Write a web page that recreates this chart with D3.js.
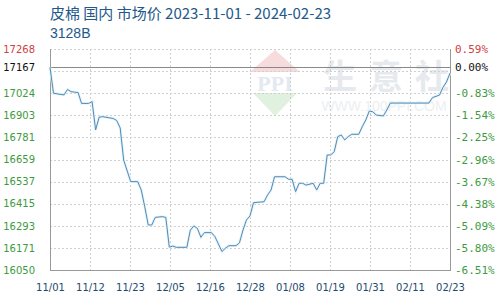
<!DOCTYPE html>
<html>
<head>
<meta charset="utf-8">
<script src="https://cdn.jsdelivr.net/npm/d3@7"></script>
<style>
  body { margin: 0; background: #fff; }
  svg { display: block; }
</style>
</head>
<body>
<div id="chart"></div>
<script>
// title lines
const titleLines = ["皮棉 国内 市场价 2023-11-01 - 2024-02-23", "3128B"];

// daily price points
const dates = [
  "2023-11-01","2023-11-02","2023-11-05","2023-11-06","2023-11-07","2023-11-08","2023-11-09",
  "2023-11-10","2023-11-12","2023-11-13","2023-11-14","2023-11-15","2023-11-16","2023-11-19",
  "2023-11-20","2023-11-21","2023-11-22","2023-11-23","2023-11-24","2023-11-26","2023-11-27",
  "2023-11-28","2023-11-29","2023-11-30","2023-12-01","2023-12-03","2023-12-04","2023-12-05",
  "2023-12-06","2023-12-07","2023-12-10","2023-12-11","2023-12-12","2023-12-13","2023-12-14",
  "2023-12-15","2023-12-17","2023-12-18","2023-12-20","2023-12-21","2023-12-22","2023-12-24",
  "2023-12-25","2023-12-26","2023-12-27","2023-12-28","2023-12-29","2023-12-30","2024-01-01",
  "2024-01-02","2024-01-03","2024-01-04","2024-01-07","2024-01-08","2024-01-09","2024-01-10",
  "2024-01-11","2024-01-12","2024-01-13","2024-01-15","2024-01-16","2024-01-17","2024-01-18",
  "2024-01-19","2024-01-20","2024-01-21","2024-01-22","2024-01-23","2024-01-24","2024-01-25",
  "2024-01-26","2024-01-28","2024-01-29","2024-01-30","2024-01-31","2024-02-01","2024-02-02",
  "2024-02-04","2024-02-05","2024-02-06","2024-02-17","2024-02-18","2024-02-20","2024-02-21",
  "2024-02-22","2024-02-23"
];
const prices = [
  17167,17024,17015,17045,17033,17030,17028,
  16968,16968,16978,16822,16892,16895,16885,
  16874,16833,16656,16596,16537,16537,16491,
  16399,16298,16298,16340,16344,16340,16176,
  16182,16175,16175,16270,16293,16280,16230,
  16256,16256,16234,16152,16170,16184,16184,
  16200,16270,16326,16348,16421,16423,16426,
  16463,16491,16564,16564,16550,16550,16482,
  16528,16528,16518,16528,16491,16528,16528,
  16684,16684,16702,16785,16794,16767,16785,
  16798,16798,16840,16877,16926,16922,16904,
  16899,16932,16970,16970,17000,17014,17056,
  17086,17135
];

// axes
const xTickLabels = ["11/01","11/12","11/23","12/05","12/16","12/28","01/08","01/19","01/31","02/11","02/23"];
const yMin = 16050, yMax = 17268, basePrice = 17167;
const yTickValues = [16050,16171,16293,16415,16537,16659,16781,16903,17024,17167,17268];

// watermark words
const wmChars = ["生", "意", "社"];

const parseDate = d3.timeParse("%Y-%m-%d");
const data = dates.map((d, i) => ({date: parseDate(d), value: prices[i]}));

const width = 500, height = 300;
const margins = {top: 49, right: 50, bottom: 30, left: 50};

const svg = d3.select("#chart")
  .append("svg")
    .attr("width", width)
    .attr("height", height)
    .attr("viewBox", [0, 0, width, height]);

const t0 = parseDate("2023-11-01"), t1 = parseDate("2024-02-23");
const xScale = d3.scaleTime()
  .domain([t0, t1])
  .range([margins.left, width - margins.right]);

const yScale = d3.scaleLinear()
  .domain([yMin, yMax])
  .range([height - margins.bottom, margins.top]);

// ten even steps along both axes
const xTicks = d3.range(11).map(i => new Date(+t0 + i * (t1 - t0) / 10));
const yGrid = d3.range(11).map(i => yMin + i * (yMax - yMin) / 10);

/* watermark */
const wm = svg.append("g").attr("class", "watermark");
const cx = 275;
wm.append("path")
  .attr("d", `M${cx},50 L${cx + 25},72 L${cx - 25},72 Z`)
  .attr("fill", "#f6dcdc");
wm.append("path")
  .attr("d", `M${cx - 22},93 L${cx + 22},93 L${cx},116 Z`)
  .attr("fill", "#e0f1e0");
wm.append("text")
  .attr("x", cx).attr("y", 91)
  .attr("text-anchor", "middle")
  .attr("font-family", "Liberation Serif, serif")
  .attr("font-weight", "bold")
  .attr("font-size", 22)
  .attr("fill", "#e3e9f0")
  .text("PPI");
wm.selectAll("text.cn")
  .data(wmChars)
  .join("text")
    .attr("class", "cn")
    .attr("x", (d, i) => 340 + i * 46)
    .attr("y", 89)
    .attr("text-anchor", "middle")
    .attr("font-family", "Noto Sans CJK SC")
    .attr("font-weight", "bold")
    .attr("font-size", 34)
    .attr("fill", "#e6eaee")
    .text(d => d);
wm.append("text")
  .attr("x", 384).attr("y", 111)
  .attr("text-anchor", "middle")
  .attr("font-family", "Liberation Sans, sans-serif")
  .attr("font-size", 14)
  .attr("fill", "#eceff2")
  .text("WWW.100PPI.COM");

/* grid */
const grid = svg.append("g")
  .attr("stroke", "#cfcfcf")
  .attr("stroke-dasharray", "2,2")
  .attr("shape-rendering", "crispEdges");
grid.selectAll("line.h")
  .data(yGrid)
  .join("line")
    .attr("class", "h")
    .attr("x1", margins.left).attr("x2", width - margins.right)
    .attr("y1", d => Math.round(yScale(d)) + 0.5)
    .attr("y2", d => Math.round(yScale(d)) + 0.5);
grid.selectAll("line.v")
  .data(xTicks)
  .join("line")
    .attr("class", "v")
    .attr("y1", margins.top).attr("y2", height - margins.bottom)
    .attr("x1", d => Math.round(xScale(d)) + 0.5)
    .attr("x2", d => Math.round(xScale(d)) + 0.5);

/* frame and base line */
const frame = svg.append("g")
  .attr("stroke", "#999")
  .attr("fill", "none")
  .attr("shape-rendering", "crispEdges");
frame.append("path")
  .attr("d", `M${margins.left + 0.5},${margins.top} V${height - margins.bottom + 0.5} H${width - margins.right + 0.5} V${margins.top}`);
frame.append("line")
  .attr("x1", margins.left).attr("x2", width - margins.right)
  .attr("y1", Math.round(yScale(basePrice)) + 0.5)
  .attr("y2", Math.round(yScale(basePrice)) + 0.5)
  .attr("stroke", "#888");

/* price line */
const line = d3.line()
  .x(d => xScale(d.date))
  .y(d => yScale(d.value));

svg.append("path")
  .datum(data)
  .attr("d", line)
  .attr("fill", "none")
  .attr("stroke", "#e4f1fa")
  .attr("stroke-width", 2.6);
svg.append("path")
  .datum(data)
  .attr("d", line)
  .attr("fill", "none")
  .attr("stroke", "#4f8cb6")
  .attr("stroke-width", 1);

/* axes labels */
const labelColor = v => v > basePrice ? "#d04040" : (v === basePrice ? "#111" : "#3e9a3e");

const xAxis = d3.axisBottom(xScale)
  .tickValues(xTicks)
  .tickFormat((d, i) => xTickLabels[i])
  .tickSize(0)
  .tickPadding(14);
const xGroup = svg.append("g")
  .attr("transform", `translate(0, ${height - margins.bottom})`)
  .call(xAxis);
xGroup.select(".domain").remove();
xGroup.selectAll("text")
  .attr("font-family", "DejaVu Sans, Verdana, sans-serif")
  .attr("font-size", 10)
  .attr("fill", "#1d4b6b");

const yAxisLeft = d3.axisLeft(yScale)
  .tickValues(yTickValues)
  .tickFormat(d => d)
  .tickSize(0)
  .tickPadding(15);
const yLeft = svg.append("g")
  .attr("transform", `translate(${margins.left}, 0)`)
  .call(yAxisLeft);
yLeft.select(".domain").remove();
yLeft.selectAll("text")
  .attr("font-family", "DejaVu Sans, Verdana, sans-serif")
  .attr("font-size", 10)
  .attr("fill", d => labelColor(d));

const yAxisRight = d3.axisRight(yScale)
  .tickValues(yTickValues)
  .tickFormat(d => ((d / basePrice - 1) * 100).toFixed(2) + "%")
  .tickSize(0)
  .tickPadding(5);
const yRight = svg.append("g")
  .attr("transform", `translate(${width - margins.right}, 0)`)
  .call(yAxisRight);
yRight.select(".domain").remove();
yRight.selectAll("text")
  .attr("font-family", "DejaVu Sans Mono, monospace")
  .attr("font-size", 11)
  .attr("fill", d => labelColor(d));

/* title */
const titleFonts = ["Noto Sans CJK SC, sans-serif", "Liberation Sans, Arial, sans-serif"];
const titleSizes = [15, 14];
svg.append("g")
  .selectAll("text")
  .data(titleLines)
  .join("text")
    .attr("x", margins.left)
    .attr("y", (d, i) => 19 + i * 19)
    .attr("font-family", (d, i) => titleFonts[i])
    .attr("font-size", (d, i) => titleSizes[i])
    .attr("fill", "#22598a")
    .text(d => d);
</script>
</body>
</html>
